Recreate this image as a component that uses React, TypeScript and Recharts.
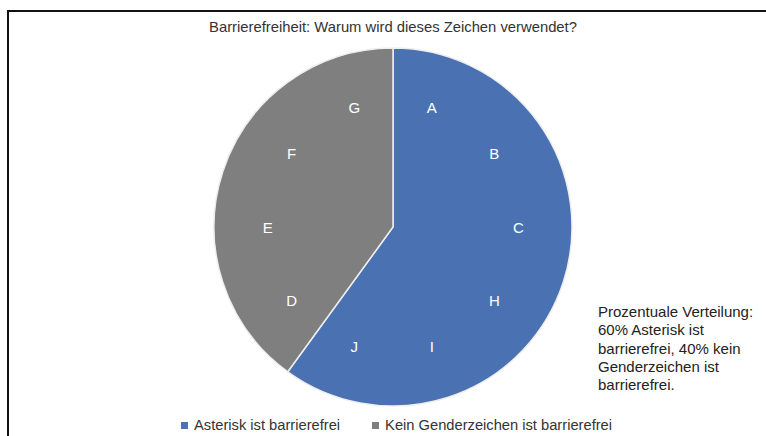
import { PieChart, Pie, Cell, Legend } from "recharts"

const categories = ["Asterisk ist barrierefrei", "Kein Genderzeichen ist barrierefrei"]
const shares = [60, 40]
const sliceColors = ["#4A72B2", "#7F7F7F"]
const letters = ["A", "B", "C", "H", "I", "J", "D", "E", "F", "G"]
const noteLines = [
  "Prozentuale Verteilung:",
  "60% Asterisk ist",
  "barrierefrei, 40% kein",
  "Genderzeichen ist",
  "barrierefrei.",
]

const pieData = categories.map((name, i) => ({ name, value: shares[i] }))
const letterData = letters.map((name) => ({ name, value: 1 }))

const RADIAN = Math.PI / 180
const FONT = "'Liberation Sans', Arial, sans-serif"

const renderLetter = (props: any) => {
  const { cx, cy, midAngle, outerRadius, index } = props
  const r = outerRadius * 0.7
  const x = cx + r * Math.cos(-midAngle * RADIAN)
  const y = cy + r * Math.sin(-midAngle * RADIAN)
  return (
    <text
      x={x}
      y={y}
      fill="#fff"
      fontSize={15}
      fontFamily={FONT}
      textAnchor="middle"
      dominantBaseline="central"
    >
      {letters[index]}
    </text>
  )
}

const renderLegend = () => (
  <div style={{ display: "flex", gap: 32, fontFamily: FONT, fontSize: 14.7, color: "#333" }}>
    {categories.map((c, i) => (
      <div key={c} style={{ display: "flex", alignItems: "center" }}>
        <span
          style={{
            display: "inline-block",
            width: 7,
            height: 7,
            background: sliceColors[i],
            marginRight: 6,
          }}
        />
        {c}
      </div>
    ))}
  </div>
)

export default function App() {
  return (
    <div
      style={{
        position: "absolute",
        left: 0,
        top: 0,
        width: 766,
        height: 436,
        overflow: "hidden",
        background: "#fff",
      }}
    >
      <div
        style={{
          position: "absolute",
          left: 7,
          top: 10,
          width: 770,
          height: 440,
          borderTop: "2px solid #111",
          borderLeft: "2px solid #111",
        }}
      />
      <div
        style={{
          position: "absolute",
          left: 0,
          width: 786,
          top: 19,
          textAlign: "center",
          fontFamily: FONT,
          fontSize: 14.8,
          color: "#333",
        }}
      >
        Barrierefreiheit: Warum wird dieses Zeichen verwendet?
      </div>
      <div
        style={{
          position: "absolute",
          left: 598,
          top: 303,
          fontFamily: FONT,
          fontSize: 15,
          lineHeight: "18.3px",
          color: "#222",
        }}
      >
        {noteLines.map((l) => (
          <div key={l}>{l}</div>
        ))}
      </div>
      <PieChart
        width={766}
        height={436}
        margin={{ top: 0, right: 0, bottom: 0, left: 0 }}
        style={{ position: "absolute", left: 0, top: 0 }}
      >
        <Pie
          data={pieData}
          dataKey="value"
          cx={393}
          cy={227}
          outerRadius={179}
          startAngle={90}
          endAngle={-270}
          stroke="#eee"
          strokeWidth={1.5}
          isAnimationActive={false}
        >
          {pieData.map((d, i) => (
            <Cell key={d.name} fill={sliceColors[i]} />
          ))}
        </Pie>
        <Pie
          data={letterData}
          dataKey="value"
          cx={393}
          cy={227}
          outerRadius={179}
          startAngle={90}
          endAngle={-270}
          fill="transparent"
          stroke="none"
          label={renderLetter}
          labelLine={false}
          isAnimationActive={false}
        />
        <Legend
          content={renderLegend}
          wrapperStyle={{ position: "absolute", left: 181, top: 417, width: 500 }}
        />
      </PieChart>
    </div>
  )
}
